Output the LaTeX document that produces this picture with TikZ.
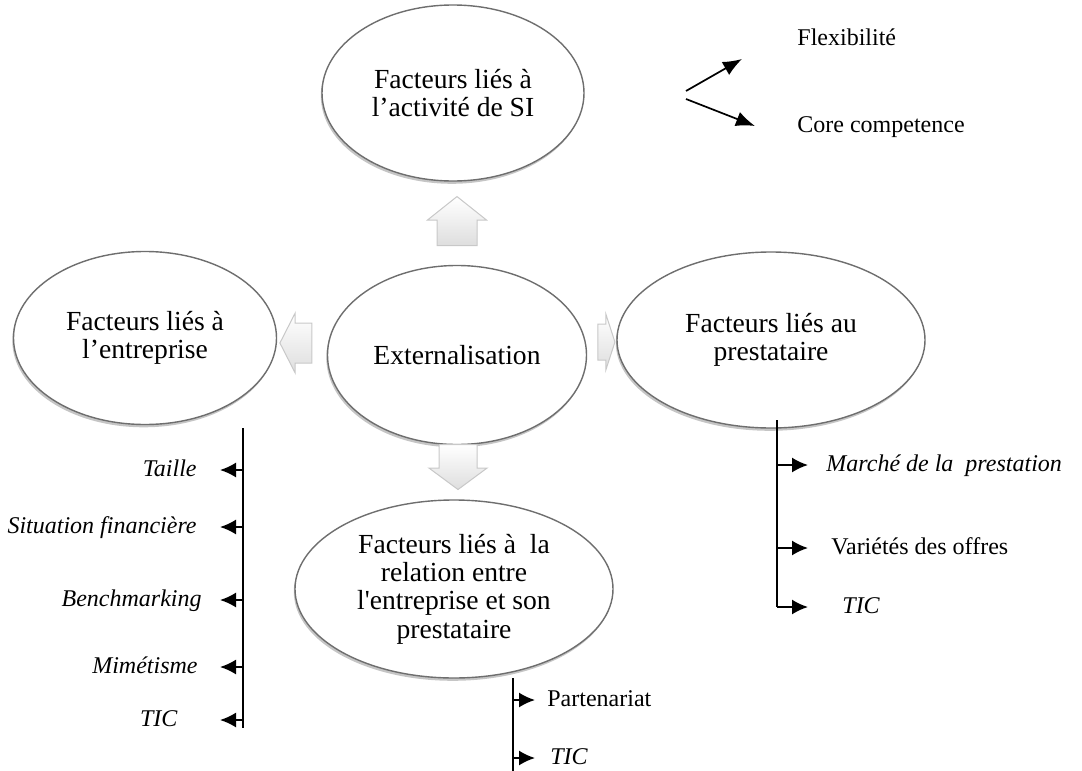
\documentclass[tikz,border=0pt]{standalone}
\usepackage{fontspec}
\setmainfont{Liberation Serif}
\usepackage{xcolor}
\usepackage{tikz}
\usetikzlibrary{positioning,arrows.meta,calc,shapes.geometric,shapes.arrows,shadows}
\newcommand{\figbubble}{\rmfamily\fontsize{13.8pt}{14.2pt}\selectfont}
\newcommand{\figitem}{\rmfamily\fontsize{12pt}{14pt}\selectfont}
\definecolor{extInk}{RGB}{0,0,0}
\definecolor{extEdge}{RGB}{110,110,110}
\definecolor{extShade}{RGB}{150,150,150}
\definecolor{extBlock}{RGB}{222,222,222}
\definecolor{extBlockEdge}{RGB}{200,200,200}
\tikzset{
  exBubble/.style={ellipse, draw=extEdge, line width=.7pt, fill=white,
    align=center, font=\figbubble, text=extInk, inner sep=0pt,
    drop shadow={shadow xshift=-.6pt, shadow yshift=-1.4pt,
      fill=extShade, opacity=.55}},
  exBlock/.style={single arrow, draw=extBlockEdge, line width=.5pt,
    top color=white, bottom color=extBlock, inner xsep=0pt},
  exBar/.style={line width=.9pt, draw=extInk},
  exTick/.style={-{Latex[length=8pt,width=7.5pt]}, line width=.9pt,
    draw=extInk},
  exFork/.style={-{Latex[length=9.5pt,width=7.5pt]}, line width=.85pt,
    draw=extInk},
  exItem/.style={font=\figitem, text=extInk, inner sep=0pt,
    text height=8.5pt, text depth=2.5pt}
}

\begin{document}
\begin{tikzpicture}[x=.5pt,y=-.5pt]
\useasboundingbox (0,0) rectangle (1082,771);
% the five factor bubbles
\node[exBubble,minimum width=131pt,minimum height=88pt] (activ) at (453,93) {Facteurs liés à\\l’activité de SI};
\node[exBubble,minimum width=131.5pt,minimum height=86.5pt] (entr) at (145,338) {Facteurs liés à\\l’entreprise};
\node[exBubble,minimum width=129.5pt,minimum height=89.5pt] (ext) at (457,355) {Externalisation};
\node[exBubble,minimum width=154pt,minimum height=88pt] (prest) at (771,340) {Facteurs liés au\\prestataire};
\node[exBubble,minimum width=159pt,minimum height=89pt] (relat) at (454,589) {Facteurs liés à~ la\\relation entre\\l\textquotesingle entreprise et son\\prestataire};
% block arrows out of the centre
\node[exBlock,rotate=90,minimum height=24.5pt,inner ysep=9.75pt,single arrow head extend=4.75pt,single arrow tip angle=103] (toActiv) at (457,229) {};
\node[exBlock,rotate=180,minimum height=16pt,inner ysep=9.75pt,single arrow head extend=5pt,single arrow tip angle=126] (toEntr) at (301,343) {};
\node[exBlock,minimum height=8.5pt,inner ysep=8.75pt,single arrow head extend=5pt,single arrow tip angle=144] (toPrest) at (603.5,342) {};
\node[exBlock,rotate=-90,minimum height=22.5pt,inner ysep=9.25pt,single arrow head extend=5pt,single arrow tip angle=107] (toRelat) at (458,460) {};
% activite de SI
\node[exItem,anchor=west] (flex) at (797,40) {Flexibilité};
\node[exItem,anchor=west] (core) at (797,126) {Core competence};
\coordinate (forkUp) at (686,91);
\coordinate (forkDown) at (686,99);
\coordinate (flexTip) at (742,59);
\coordinate (coreTip) at (755,126);
\draw[exFork] (forkUp) -- (flexTip);
\draw[exFork] (forkDown) -- (coreTip);
% entreprise
\coordinate (lBarTop) at (243,428);
\coordinate (lBarBot) at (243,728);
\draw[exBar] (lBarTop) -- (lBarBot);
\node[exItem,anchor=east] (taille) at (197,470) {\textit{Taille}};
\node[exItem,anchor=east] (situ) at (197,527) {\textit{Situation financière}};
\node[exItem,anchor=east] (bench) at (202,600) {\textit{Benchmarking}};
\node[exItem,anchor=east] (mimet) at (198,667) {\textit{Mimétisme}};
\node[exItem,anchor=east] (ticE) at (178,720) {\textit{TIC}};
\draw[exTick,shorten >=11.5pt] (lBarTop |- taille) -- (taille.east);
\draw[exTick,shorten >=11.5pt] (lBarTop |- situ) -- (situ.east);
\draw[exTick,shorten >=9pt] (lBarTop |- bench) -- (bench.east);
\draw[exTick,shorten >=11pt] (lBarTop |- mimet) -- (mimet.east);
\draw[exTick,shorten >=21pt] (lBarTop |- ticE) -- (ticE.east);
% prestataire
\coordinate (rBarTop) at (777,420);
\coordinate (rBarBot) at (777,607);
\draw[exBar] (rBarTop) -- (rBarBot);
\node[exItem,anchor=west] (march) at (826,465) {\textit{Marché de la~ prestation}};
\node[exItem,anchor=west] (variet) at (831,548) {Variétés des offres};
\node[exItem,anchor=west] (ticP) at (842,607) {\textit{TIC}};
\draw[exTick,shorten >=9pt] (rBarTop |- march) -- (march.west);
\draw[exTick,shorten >=11.5pt] (rBarTop |- variet) -- (variet.west);
\draw[exTick,shorten >=17pt] (rBarTop |- ticP) -- (ticP.west);
% relation
\coordinate (bBarTop) at (513,678);
\coordinate (bBarBot) at (513,771);
\draw[exBar] (bBarTop) -- (bBarBot);
\node[exItem,anchor=west] (parten) at (547,700) {Partenariat};
\node[exItem,anchor=west] (ticR) at (550,758) {\textit{TIC}};
\draw[exTick,shorten >=6pt] (bBarTop |- parten) -- (parten.west);
\draw[exTick,shorten >=7.5pt] (bBarTop |- ticR) -- (ticR.west);
\end{tikzpicture}
\end{document}
